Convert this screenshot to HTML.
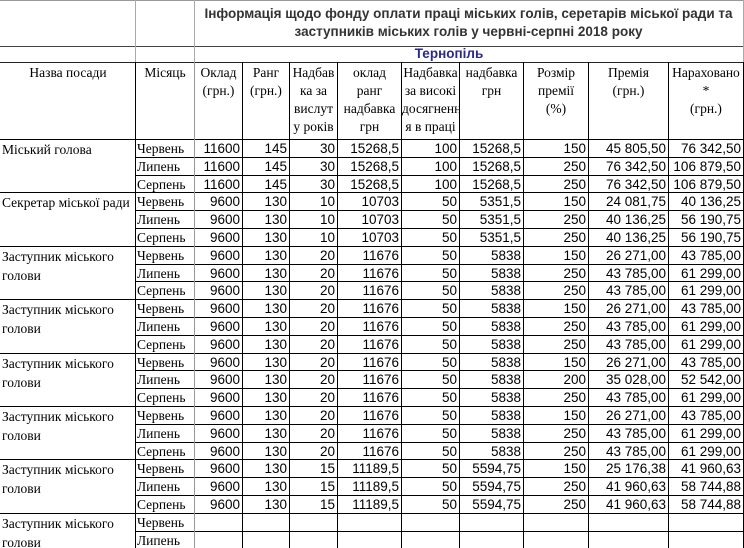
<!DOCTYPE html>
<html><head><meta charset="utf-8">
<style>
body{margin:0;width:744px;height:548px;overflow:hidden;background:#fff;}
#wrap{position:absolute;left:0;top:0;width:744px;height:548px;overflow:hidden;}
.c{position:absolute;box-sizing:border-box;overflow:hidden;white-space:nowrap;}
.serif{font-family:"Liberation Serif","Noto Serif CJK SC",serif;font-size:13.5px;}
.sans{font-family:"Liberation Sans","Noto Sans CJK SC",sans-serif;font-size:13.5px;}
.num{text-align:right;padding-right:2px;line-height:18px;}
.hl{position:absolute;height:1px;}
.vl{position:absolute;width:1px;}
</style></head><body>
<div id="wrap">
<div class="c sans" style="left:194px;top:5px;width:549px;text-align:center;font-weight:bold;font-size:13.5px;line-height:18px;color:#333;white-space:normal;">Інформація щодо фонду оплати праці міських голів, серетарів міської ради та заступників міських голів у червні-серпні 2018 року</div>
<div class="c sans" style="left:194px;top:46px;width:510px;text-align:center;font-weight:bold;font-size:13.5px;line-height:16px;color:#2a2a8a;">Тернопіль</div>
</div>
<script>
const colX=[0,135,194,242,289,337,401,459,523,588,668,743];
const headers=["Назва посади","Місяць","Оклад<br>(грн.)","Ранг<br>(грн.)","Надбав<br>ка за<br>вислут<br>у років<br>(%)","оклад<br>ранг<br>надбавка<br>грн","Надбавка<br>за високі<br>досягненн<br>я в праці<br>(%)","надбавка<br>грн","Розмір<br>премії<br>(%)","Премія<br>(грн.)","Нараховано<br>*<br>(грн.)"];
const months=["Червень","Липень","Серпень"];
const groupNames=["Міський голова","Секретар міської ради","Заступник міського<br>голови","Заступник міського<br>голови","Заступник міського<br>голови","Заступник міського<br>голови","Заступник міського<br>голови","Заступник міського<br>голови"];
const rowsData=[
["11600","145","30","15268,5","100","15268,5","150","45 805,50","76 342,50"],
["11600","145","30","15268,5","100","15268,5","250","76 342,50","106 879,50"],
["11600","145","30","15268,5","100","15268,5","250","76 342,50","106 879,50"],
["9600","130","10","10703","50","5351,5","150","24 081,75","40 136,25"],
["9600","130","10","10703","50","5351,5","250","40 136,25","56 190,75"],
["9600","130","10","10703","50","5351,5","250","40 136,25","56 190,75"],
["9600","130","20","11676","50","5838","150","26 271,00","43 785,00"],
["9600","130","20","11676","50","5838","250","43 785,00","61 299,00"],
["9600","130","20","11676","50","5838","250","43 785,00","61 299,00"],
["9600","130","20","11676","50","5838","150","26 271,00","43 785,00"],
["9600","130","20","11676","50","5838","250","43 785,00","61 299,00"],
["9600","130","20","11676","50","5838","250","43 785,00","61 299,00"],
["9600","130","20","11676","50","5838","150","26 271,00","43 785,00"],
["9600","130","20","11676","50","5838","200","35 028,00","52 542,00"],
["9600","130","20","11676","50","5838","250","43 785,00","61 299,00"],
["9600","130","20","11676","50","5838","150","26 271,00","43 785,00"],
["9600","130","20","11676","50","5838","250","43 785,00","61 299,00"],
["9600","130","20","11676","50","5838","250","43 785,00","61 299,00"],
["9600","130","15","11189,5","50","5594,75","150","25 176,38","41 960,63"],
["9600","130","15","11189,5","50","5594,75","250","41 960,63","58 744,88"],
["9600","130","15","11189,5","50","5594,75","250","41 960,63","58 744,88"],
["","","","","","","","",""],
["","","","","","","","",""],
["","","","","","","","",""]
];
const W=document.getElementById('wrap');
const top0=139, rh=17.8, hTop=62;
function line(cls,l,t,w,h,col){const d=document.createElement('div');d.className=cls;d.style.left=l+'px';d.style.top=Math.round(t)+'px';if(w)d.style.width=w+'px';if(h)d.style.height=h+'px';d.style.background=col;


W.appendChild(d);}
function cell(txt,cls,l,t,w,h,st){const d=document.createElement('div');d.className='c '+cls;d.style.left=l+'px';d.style.top=t+'px';d.style.width=w+'px';d.style.height=h+'px';if(st)d.style.cssText+=st;d.innerHTML=txt;


W.appendChild(d);return d;}
for(let i=0;i<11;i++){
 const d=cell(headers[i],'serif',colX[i]+1,hTop+1,colX[i+1]-colX[i]-1,top0-hTop-1,'text-align:center;line-height:18px;padding-top:1px;');
 
}
for(let r=0;r<rowsData.length;r++){
 const y=Math.round(top0+r*rh);
 const y2=Math.round(top0+(r+1)*rh);
 const m=cell(months[r%3],'serif',colX[1]+2,y+1,colX[2]-colX[1]-2,y2-y-1,'line-height:18px;');
 
 for(let j=0;j<9;j++){
  const d=cell(rowsData[r][j],'sans num',colX[j+2],y+1,colX[j+3]-colX[j+2],y2-y-1);
  
 }
 if(r%3===0){
  const g=cell(groupNames[r/3],'serif',colX[0]+2,y+1,colX[1]-2,Math.round(rh*3)-1,'line-height:19px;white-space:normal;');
  
 }
}
const bottom=top0+rowsData.length*rh;
line('hl',0,0,744,1,'#999');
line('hl',0,46,744,1,'#444');
line('hl',0,hTop,744,1,'#222');
line('vl',colX[1],0,0,hTop,'#aaa');
line('vl',colX[2],0,0,hTop,'#aaa');
line('vl',743,0,0,hTop,'#aaa');
line('hl',0,top0,744,1,'#000');
for(let r=1;r<=rowsData.length;r++){
 const y=top0+r*rh;
 if(r%3===0) line('hl',0,y,744,1,'#000'); else line('hl',colX[1],y,744-colX[1],1,'#000');
}
for(let i=1;i<colX.length;i++){
 const col=(i===2)?'#999':'#000';
 line('vl',colX[i],hTop,0,Math.round(bottom-hTop),col);
}
</script>
</body></html>
